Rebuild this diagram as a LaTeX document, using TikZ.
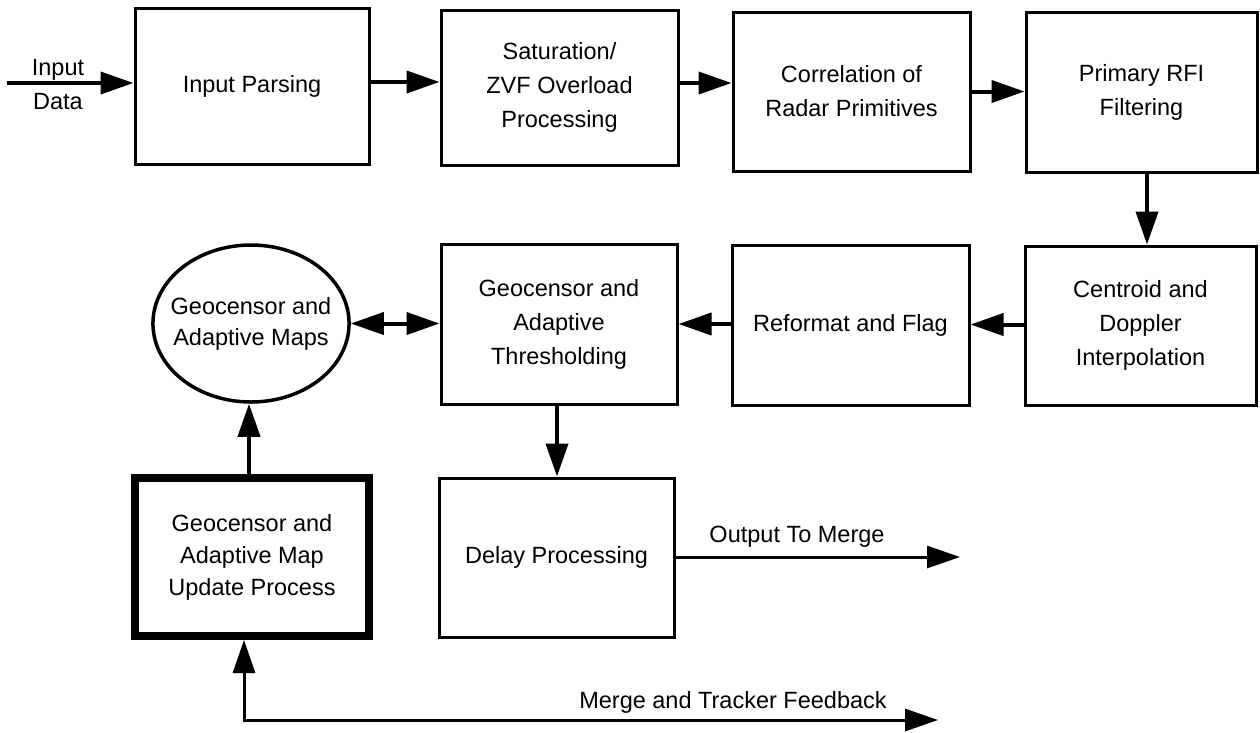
\documentclass[tikz,border=0pt]{standalone}
\usepackage{fontspec}
\setmainfont{Liberation Sans}
\usetikzlibrary{arrows.meta,shapes.geometric}
\begin{document}
\begin{tikzpicture}[x=1pt,y=-1pt,
  >={Triangle[length=33pt,width=22pt]},
  every node/.style={font=\fontsize{23.5}{34}\selectfont, align=center},
  blk/.style={draw, line width=3pt, rectangle, inner sep=0pt},
  thickblk/.style={blk, line width=8pt},
  oval/.style={draw, ellipse, line width=3.5pt, inner ysep=0pt, inner xsep=-11pt},
  flow/.style={line width=4pt, ->},
  thinflow/.style={line width=3pt, ->},
  lbl/.style={inner sep=0pt}
]
\useasboundingbox (0,0) rectangle (1260,732);

% top row
\node[blk, minimum width=234pt, minimum height=156pt] (inparse) at (252,86) {Input Parsing};
\node[blk, minimum width=237pt, minimum height=155pt] (sat) at (559.5,87.5) {Saturation/\\ZVF Overload\\Processing};
\node[blk, minimum width=237pt, minimum height=159pt] (corr) at (851.5,91.5) {Correlation of\\Radar Primitives};
\node[blk, minimum width=231pt, minimum height=160pt] (rfi) at (1141.5,92) {Primary RFI\\Filtering};

% middle row
\node[blk, minimum width=231pt, minimum height=159pt] (centroid) at (1140.5,325.5) {Centroid and\\Doppler\\Interpolation};
\node[blk, minimum width=237pt, minimum height=160pt] (reformat) at (850.5,325) {Reformat and Flag};
\node[blk, minimum width=236pt, minimum height=160pt] (thresh) at (559,324) {Geocensor and\\Adaptive\\Thresholding};
\node[oval, minimum width=192pt, minimum height=157pt, font=\fontsize{23.5}{31}\selectfont] (maps) at (251,323.5) {Geocensor and\\Adaptive Maps};

% bottom row
\node[thickblk, minimum width=234pt, minimum height=158pt, font=\fontsize{23.5}{32}\selectfont] (update) at (252,557) {Geocensor and\\Adaptive Map\\Update Process};
\node[blk, minimum width=235pt, minimum height=159pt] (delay) at (556.5,557.5) {Delay Processing};

% input
\coordinate (inputsrc) at (7,83);
\node[lbl] (inlabel) at (58,85) {Input\\Data};
\draw[flow] (inputsrc) -- (inputsrc -| inparse.west);

% top row flow
\draw[flow] ([yshift=4pt]inparse.east) -- ([yshift=4pt]inparse.east -| sat.west);
\draw[flow] ([yshift=4.5pt]sat.east) -- ([yshift=4.5pt]sat.east -| corr.west);
\draw[flow] (corr.east) -- (corr.east -| rfi.west);
\draw[flow] ([xshift=5.5pt]rfi.south) -- ([xshift=5.5pt]rfi.south |- centroid.north);

% middle row flow
\draw[flow] ([yshift=1pt]centroid.west) -- ([yshift=1pt]centroid.west -| reformat.east);
\draw[flow] ([yshift=1pt]reformat.west) -- ([yshift=1pt]reformat.west -| thresh.east);
\draw[flow, <->] (maps.east) -- (maps.east -| thresh.west);
\draw[flow] ([xshift=-2pt]thresh.south) -- ([xshift=-2pt]thresh.south |- delay.north);
\draw[flow] ([xshift=-3pt]update.north) -- ([xshift=-3pt]update.north |- maps.south);

% outputs
\coordinate (outend) at (960,557);
\draw[thinflow] (delay.east |- outend) -- (outend);
\node[lbl] (outlabel) at (797,537) {Output To Merge};

\coordinate (fbend) at (938,720);
\draw[thinflow, <->] (fbend) -| ([xshift=-8pt]update.south);
\node[lbl] (fblabel) at (733,702) {Merge and Tracker Feedback};
\end{tikzpicture}
\end{document}
